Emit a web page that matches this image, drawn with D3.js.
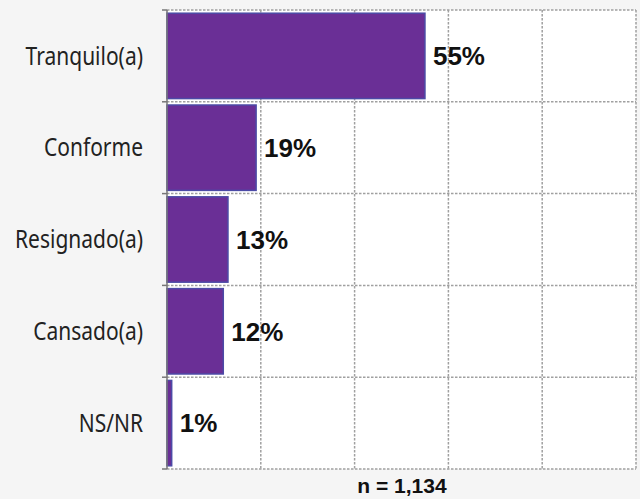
<!DOCTYPE html>
<html><head><meta charset="utf-8">
<script src="https://cdn.jsdelivr.net/npm/d3@7"></script>
<style>html,body{margin:0;padding:0;background:#f5f5f5;}svg{display:block;}</style>
</head><body>
<svg id="chart" width="640" height="499"></svg>
<script>
const categories = ["Tranquilo(a)", "Conforme", "Resignado(a)", "Cansado(a)", "NS/NR"];
const values = [55, 19, 13, 12, 1];
const xTicks = [0, 20, 40, 60, 80, 100];
const note = "n = 1,134";

const svg = d3.select("#chart");
const mL = 167, mR = 636, mT = 10, mB = 469;
const x = d3.scaleLinear().domain([0, 100]).range([mL, mR]);
const y = d3.scaleBand().domain(categories).range([mT, mB]).paddingInner(0.07).paddingOuter(0.035);
const step = (mB - mT) / categories.length;

svg.append("rect").attr("x", mL).attr("y", mT).attr("width", mR-mL).attr("height", mB-mT).attr("fill", "#ffffff");

const bounds = d3.range(categories.length + 1).map(i => mT + i * step);
const grid = svg.append("g");
grid.selectAll("line.h").data(bounds).join("line").attr("class", "h")
  .attr("x1", mL).attr("x2", mR).attr("y1", d => d).attr("y2", d => d)
  .attr("stroke", "#a0a0a0").attr("stroke-width", 1.5).attr("stroke-dasharray", "2.5,1.5");
grid.selectAll("line.v").data(xTicks.slice(1)).join("line").attr("class", "v")
  .attr("x1", d => x(d)).attr("x2", d => x(d)).attr("y1", mT).attr("y2", mB)
  .attr("stroke", "#a0a0a0").attr("stroke-width", 1.5).attr("stroke-dasharray", "2.5,1.5");

svg.selectAll("rect.bar").data(values).join("rect").attr("class", "bar")
  .attr("x", x(0)).attr("y", (d, i) => y(categories[i]))
  .attr("width", d => x(d) - x(0)).attr("height", y.bandwidth())
  .attr("fill", "#6a2f96").attr("stroke", "#4c4aa6").attr("stroke-width", 1.5);

svg.append("line").attr("x1", mL).attr("x2", mL).attr("y1", mT).attr("y2", mB)
  .attr("stroke", "#777").attr("stroke-width", 1.5);
svg.selectAll("line.tk").data(bounds).join("line").attr("class", "tk")
  .attr("x1", mL - 5).attr("x2", mL).attr("y1", d => d).attr("y2", d => d)
  .attr("stroke", "#777").attr("stroke-width", 1.5);

svg.selectAll("text.cat").data(categories).join("text").attr("class", "cat")
  .attr("transform", d => `translate(143,${y(d) + y.bandwidth() / 2}) scale(1,1.18)`)
  .attr("dy", "0.35em").attr("text-anchor", "end")
  .attr("font-family", "'Noto Sans', 'Open Sans', sans-serif").attr("font-size", 21).attr("fill", "#222")
  .text(d => d);

svg.selectAll("text.val").data(values).join("text").attr("class", "val")
  .attr("x", d => x(d) + 8).attr("y", (d, i) => y(categories[i]) + y.bandwidth() / 2)
  .attr("dy", "0.36em")
  .attr("font-family", "'Liberation Sans', Arial, sans-serif").attr("font-weight", "bold").attr("font-size", 26).attr("fill", "#111")
  .text(d => d + "%");

svg.append("text").attr("x", 402).attr("y", 493).attr("text-anchor", "middle")
  .attr("font-family", "'Liberation Sans', Arial, sans-serif").attr("font-weight", "bold").attr("font-size", 21).attr("fill", "#111")
  .text(note);
</script>
</body></html>
